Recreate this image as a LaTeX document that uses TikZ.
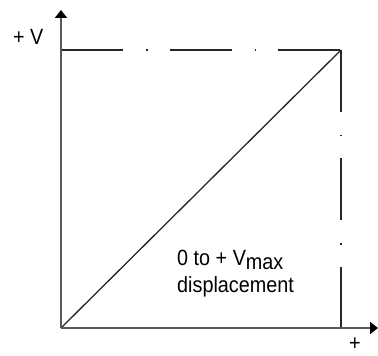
\documentclass[tikz,border=0pt]{standalone}
\usepackage{fontspec}
\setmainfont[FakeStretch=0.9]{Liberation Sans}
\usetikzlibrary{arrows.meta}
\begin{document}
\begin{tikzpicture}[x=1pt,y=1pt,
  axis/.style={line width=1.8pt,draw=black!65,-{Triangle[width=12pt,length=8pt,fill=black,color=black]}},
  thin line/.style={line width=1.3pt,draw=black!85},
  dashdot line/.style={line width=1.3pt,draw=black!85,dash pattern=on 62pt off 23pt on 1.5pt off 22pt},
  lbl/.style={font=\fontsize{22}{24}\selectfont,inner sep=0pt}]
\useasboundingbox (0,0) rectangle (378,356);
\coordinate (O) at (61,28);
\coordinate (Ytip) at (61,346);
\coordinate (Xtip) at (378,28);
\coordinate (TL) at (61,306);
\coordinate (TR) at (341,306);
\coordinate (BR) at (341,28);
\draw[thin line] (O) -- (TR);
\draw[dashdot line] (TL) -- (TR);
\draw[dashdot line] (TR) -- (BR);
\draw[axis] (O) -- (Ytip);
\draw[axis] (O) -- (Xtip);
\node[lbl,anchor=base west] (vl) at (13,311) {+ V};
\node[lbl,anchor=base] (xl) at (355,5) {+};
\node[lbl,anchor=base west] (t1) at (177,90) {0 to + V\raisebox{-3.5pt}{max}};
\node[lbl,anchor=base west] (t2) at (177,63) {displacement};
\end{tikzpicture}
\end{document}
